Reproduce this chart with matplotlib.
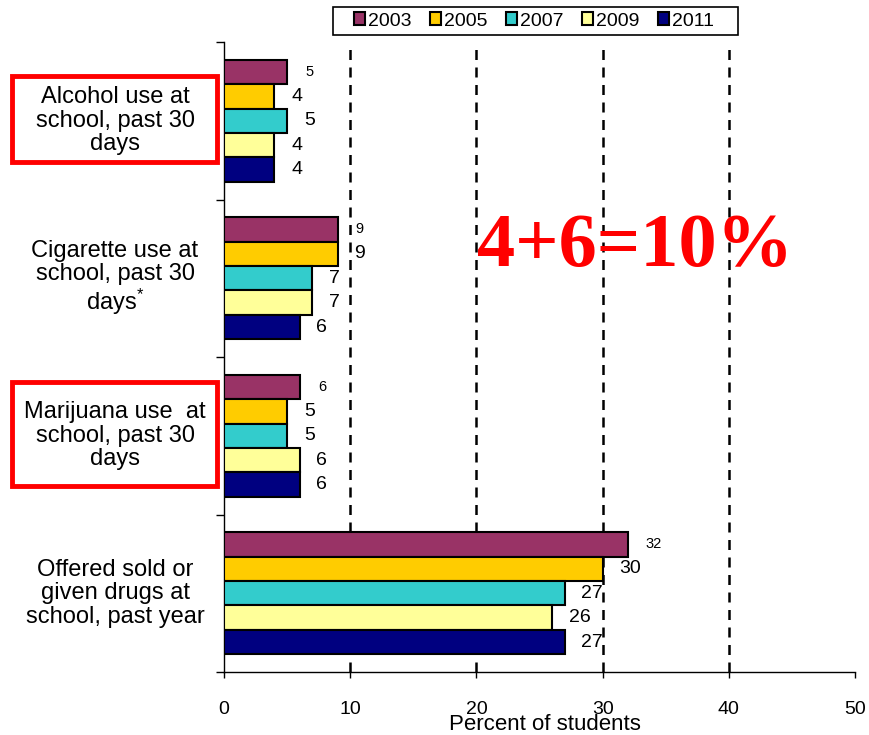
import matplotlib
matplotlib.use("Agg")
import matplotlib.pyplot as plt
from matplotlib.patches import Rectangle
from matplotlib.transforms import blended_transform_factory
import numpy as np

plt.rcParams['font.family'] = ['Liberation Sans', 'DejaVu Sans']
plt.rcParams['mathtext.fontset'] = 'custom'
plt.rcParams['mathtext.rm'] = 'Liberation Sans'
plt.rcParams['mathtext.it'] = 'Liberation Sans'

categories = ["Alcohol use at\nschool, past 30\ndays",
              "Cigarette use at\nschool, past 30\ndays$^{*}$",
              "Marijuana use  at\nschool, past 30\ndays",
              "Offered sold or\ngiven drugs at\nschool, past year"]
years = ["2003", "2005", "2007", "2009", "2011"]
values = {
    "2003": [5, 9, 6, 32],
    "2005": [4, 9, 5, 30],
    "2007": [5, 7, 5, 27],
    "2009": [4, 7, 6, 26],
    "2011": [4, 6, 6, 27],
}
colors = ["#993366", "#FFCC00", "#33CCCC", "#FFFF99", "#000080"]
xticks = [0, 10, 20, 30, 40, 50]

W, H = 869, 735
fig = plt.figure(figsize=(W / 100, H / 100), dpi=100)
ax = fig.add_axes([224 / W, 1 - 672 / H, (855 - 224) / W, (672 - 42) / H])

bh = 0.155
y = np.arange(len(categories))
handles = []
for j, yr in enumerate(years):
    pos = y + (j - 2) * bh
    b = ax.barh(pos, values[yr], height=bh, color=colors[j], edgecolor='black',
                linewidth=1.5, zorder=3, label=yr)
    handles.append(b)
    for p, v in zip(pos, values[yr]):
        if j == 0:
            ax.annotate(str(v), (v, p), xytext=(13, 0), textcoords='offset points',
                        ha='left', va='center', fontsize=10.5, zorder=4)
        else:
            ax.annotate(str(v), (v, p), xytext=(12, 0), textcoords='offset points',
                        ha='left', va='center', fontsize=14, zorder=4)

ax.set_xlim(0, 50)
ax.set_ylim(3.5, -0.5)
ax.set_xticks(xticks)
ax.set_xticklabels([str(t) for t in xticks], fontsize=14)
ax.tick_params(axis='x', length=4, width=1, pad=17, direction='out')
ax.set_yticks(np.arange(-0.5, 4.0, 1.0))
ax.set_yticklabels([])
ax.tick_params(axis='y', length=6, width=1, direction='out')
for t in [10, 20, 30, 40]:
    ax.axvline(t, color='black', linestyle=(0, (4, 3)), linewidth=1.8, zorder=1)
for s in ['top', 'right']:
    ax.spines[s].set_visible(False)
ax.spines['left'].set_linewidth(1)
ax.spines['bottom'].set_linewidth(1)

tr = blended_transform_factory(fig.transFigure, ax.transData)
for i, c in enumerate(categories):
    ax.text(115 / W, i, c, transform=tr, ha='center', va='center', fontsize=17,
            linespacing=1.08, clip_on=False)

boxes = [(12, 76, 217, 162), (12, 382, 217, 486)]
for (x0, y0, x1, y1) in boxes:
    fig.patches.append(Rectangle((x0 / W, 1 - y1 / H), (x1 - x0) / W, (y1 - y0) / H,
                                 transform=fig.transFigure, fill=False,
                                 edgecolor='#FF0000', linewidth=3.5))

fig.text(545 / W, 1 - 730 / H, "Percent of students", ha='center', va='baseline',
         fontsize=16)

ax.text(0.651, 0.674, "4+6=10%", transform=ax.transAxes, ha='center', va='center',
        fontsize=55, fontweight='bold', color='#FF0000',
        family=['Liberation Serif'], zorder=5)

# legend frame
fig.patches.append(Rectangle((333 / W, 1 - 35 / H), (738 - 333) / W, 28 / H,
                             transform=fig.transFigure, facecolor='white',
                             edgecolor='black', linewidth=1.2, zorder=0))
leg = fig.legend(handles=handles, labels=years, loc='center',
                 bbox_to_anchor=(534 / W, 1 - 21 / H), ncol=5, fontsize=14,
                 frameon=False,
                 handlelength=0.6, handleheight=0.6, handletextpad=0.15,
                 columnspacing=0.92, borderpad=0.2, borderaxespad=0)

fig.savefig("out.png", dpi=100)
